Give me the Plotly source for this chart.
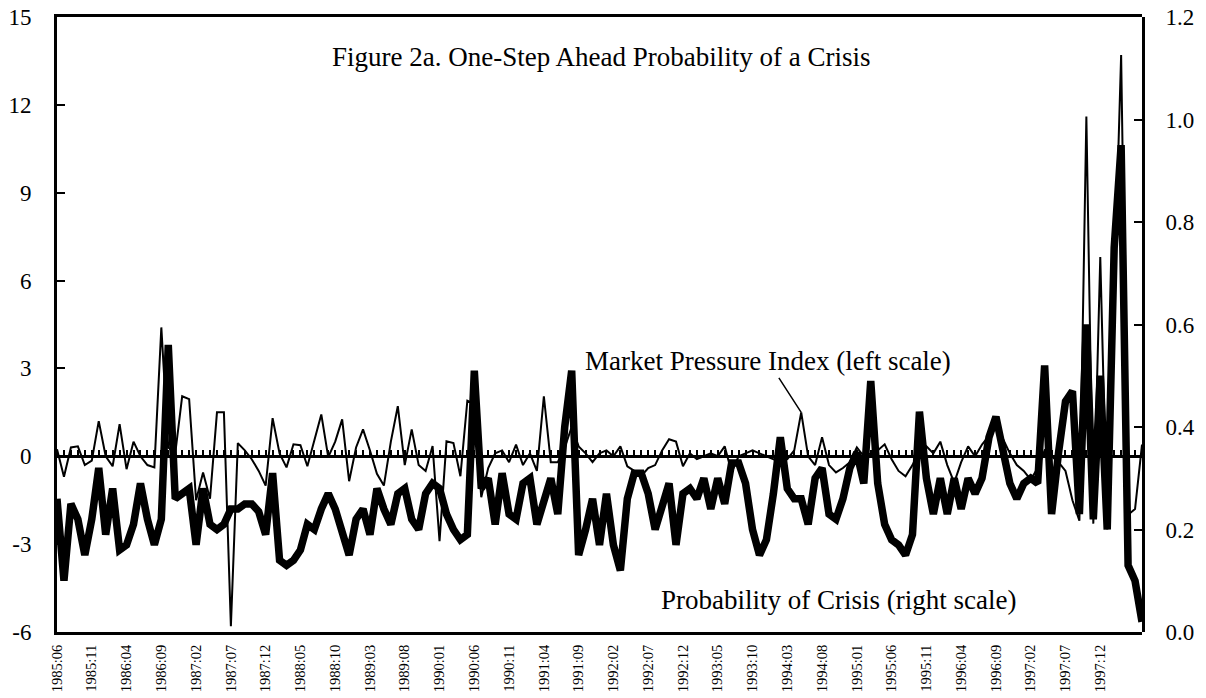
import plotly.graph_objects as go

# meses: 1985:06 ate 1998:06
n_meses = 157
meses = []
ano, mes = 1985, 6
for _ in range(n_meses):
    meses.append(f"{ano}:{mes:02d}")
    mes += 1
    if mes > 12:
        mes = 1
        ano += 1

# Market Pressure Index (escala esquerda)
mpi = [
    0.24, -0.7, 0.3, 0.34, -0.3, -0.15, 1.2, 0.0, -0.34, 1.1,
    -0.44, 0.5, 0.0, -0.3, -0.38, 4.4, 0.3, 0.1, 2.05, 1.95,
    -1.5, -0.55, -1.45, 1.5, 1.5, -5.8, 0.45, 0.2, -0.1, -0.5,
    -1.0, 1.3, 0.1, -0.38, 0.41, 0.38, -0.34, 0.5, 1.43, -0.03,
    0.5, 1.26, -0.85, 0.3, 0.92, 0.2, -0.6, -1.0, 0.5, 1.71,
    -0.3, 0.92, -0.3, -0.5, 0.35, -2.9, 0.51, 0.45, -0.68, 1.9,
    1.8, -1.4, -0.4, 0.1, 0.2, -0.2, 0.4, -0.3, 0.1, -0.5,
    2.05, -0.2, -0.2, 0.3, 1.0, 0.34, 0.1, -0.2, 0.1, 0.2,
    0.0, 0.34, -0.34, -0.5, -0.68, -0.4, -0.3, 0.2, 0.58, 0.5,
    -0.34, 0.1, -0.1, 0.0, 0.1, 0.0, 0.34, -0.55, 0.0, 0.1,
    0.2, 0.1, 0.0, -0.1, -0.2, -0.1, 0.2, 1.5, 0.0, -0.3,
    0.65, -0.3, -0.55, -0.4, -0.2, 0.3, 0.0, 0.1, 0.2, 0.41,
    -0.1, -0.5, -0.68, -0.3, 0.2, 0.34, 0.1, 0.5, -0.3, -0.9,
    -0.2, 0.34, 0.0, 0.4, 0.7, 1.0, 0.6, 0.1, -0.3, -0.5,
    -0.8, -0.4, 0.2, 0.0, -0.2, -0.5, -1.5, -2.2, 11.6, -2.3,
    6.8, -2.5, 6.0, 13.7, -2.0, -1.8, 0.4,
]

# Probabilidade de crise (escala direita)
prob = [
    0.26, 0.10, 0.25, 0.22, 0.15, 0.22, 0.32, 0.19, 0.28, 0.16,
    0.17, 0.21, 0.29, 0.22, 0.17, 0.22, 0.56, 0.26, 0.27, 0.28,
    0.17, 0.28, 0.21, 0.20, 0.21, 0.24, 0.24, 0.25, 0.25, 0.235,
    0.19, 0.31, 0.14, 0.13, 0.14, 0.16, 0.21, 0.20, 0.24, 0.27,
    0.24, 0.20, 0.15, 0.22, 0.24, 0.19, 0.28, 0.24, 0.21, 0.27,
    0.28, 0.22, 0.20, 0.27, 0.29, 0.28, 0.23, 0.20, 0.18, 0.19,
    0.51, 0.28, 0.30, 0.21, 0.31, 0.23, 0.22, 0.29, 0.30, 0.21,
    0.25, 0.30, 0.23, 0.40, 0.51, 0.15, 0.20, 0.26, 0.17, 0.27,
    0.17, 0.12, 0.26, 0.31, 0.31, 0.27, 0.20, 0.24, 0.29, 0.17,
    0.27, 0.28, 0.26, 0.30, 0.24, 0.30, 0.25, 0.33, 0.33, 0.29,
    0.20, 0.15, 0.18, 0.27, 0.38, 0.28, 0.26, 0.26, 0.21, 0.30,
    0.32, 0.23, 0.22, 0.26, 0.32, 0.35, 0.29, 0.49, 0.29, 0.21,
    0.18, 0.17, 0.15, 0.19, 0.43, 0.30, 0.23, 0.30, 0.23, 0.30,
    0.24, 0.30, 0.27, 0.30, 0.38, 0.42, 0.36, 0.29, 0.26, 0.29,
    0.30, 0.29, 0.52, 0.23, 0.35, 0.45, 0.47, 0.23, 0.60, 0.22,
    0.50, 0.20, 0.75, 0.95, 0.13, 0.10, 0.02,
]

ticks_esq = [-6, -3, 0, 3, 6, 9, 12, 15]
ticks_esq_txt = ["-6", "-3", "0", "3", "6", "9", "12", "15"]
ticks_dir = [0, 0.2, 0.4, 0.6, 0.8, 1.0, 1.2]
ticks_dir_txt = ["0.0", "0.2", "0.4", "0.6", "0.8", "1.0", "1.2"]
ticks_x = list(range(0, 151, 5))  # rotulos a cada 5 meses, 1985:06 a 1997:12

idx = list(range(n_meses))
fonte = "Liberation Serif, Times New Roman, serif"

fig = go.Figure()
fig.add_trace(go.Scatter(x=idx, y=mpi, mode="lines", xaxis="x", yaxis="y",
                         line={"color": "black", "width": 2}, name="MPI"))
fig.add_trace(go.Scatter(x=idx, y=prob, mode="lines", xaxis="x2", yaxis="y2",
                         line={"color": "black", "width": 7.5}, name="Prob"))

fig.update_layout(
    width=1206, height=698, showlegend=False, template="none",
    paper_bgcolor="white", plot_bgcolor="rgba(0,0,0,0)",
    margin={"l": 57, "r": 64, "t": 17, "b": 66},
    font={"family": fonte, "color": "black"},
    xaxis={"range": [0, n_meses - 1], "domain": [0, 1], "anchor": "y", "automargin": False,
           "showline": True, "linecolor": "black", "linewidth": 3,
           "mirror": True, "ticks": "", "showgrid": False, "zeroline": False,
           "tickvals": ticks_x, "ticktext": [meses[i] for i in ticks_x], "tickangle": -90,
           "tickfont": {"size": 14.5}, "ticklabelstandoff": 4, "ticklabeloverflow": "allow"},
    # eixo que cruza o zero, com marcas mensais
    xaxis2={"range": [0, n_meses - 1], "domain": [0, 1], "anchor": "free", "position": 6 / 21,
            "automargin": False, "side": "top", "showline": True, "linecolor": "black",
            "linewidth": 3, "ticks": "outside", "ticklen": 5, "tickwidth": 2, "tickcolor": "black",
            "tick0": 0, "dtick": 1, "showticklabels": False, "showgrid": False, "zeroline": False},
    yaxis={"range": [-6, 15], "domain": [0, 1], "anchor": "x", "automargin": False,
           "tickvals": ticks_esq, "ticktext": ticks_esq_txt,
           "showline": True, "linecolor": "black", "linewidth": 3, "ticks": "inside",
           "ticklen": 8, "tickwidth": 2, "tickcolor": "black", "showgrid": False, "zeroline": False,
           "tickfont": {"size": 23}, "ticklabelstandoff": 18, "ticklabeloverflow": "allow"},
    yaxis2={"range": [0, 1.2], "domain": [0, 1], "anchor": "x2", "side": "right", "automargin": False,
            "tickvals": ticks_dir, "ticktext": ticks_dir_txt,
            "showline": True, "linecolor": "black", "linewidth": 3, "ticks": "inside",
            "ticklen": 8, "tickwidth": 2, "tickcolor": "black", "showgrid": False, "zeroline": False,
            "tickfont": {"size": 23}, "ticklabelstandoff": 16, "ticklabeloverflow": "allow"},
)

fig.add_annotation(x=0.501, y=0.935, xref="paper", yref="paper", xanchor="center", yanchor="middle",
                   showarrow=False, text="Figure 2a. One-Step Ahead Probability of a Crisis",
                   font={"size": 27})
fig.add_annotation(x=107, y=1.5, xref="x", yref="y", ax=-33, ay=-51, showarrow=True,
                   arrowhead=0, arrowwidth=1.5, arrowcolor="black",
                   text="Market Pressure Index (left scale)", font={"size": 27})
fig.add_annotation(x=112.3, y=0.062, xref="x2", yref="y2", showarrow=False,
                   text="Probability of Crisis (right scale)", font={"size": 27})

# tira a margem padrao do <body> para o grafico ocupar a janela inteira
fig.write_html("out.html", config={"displayModeBar": False},
               post_script="document.body.style.margin = '0px';")
